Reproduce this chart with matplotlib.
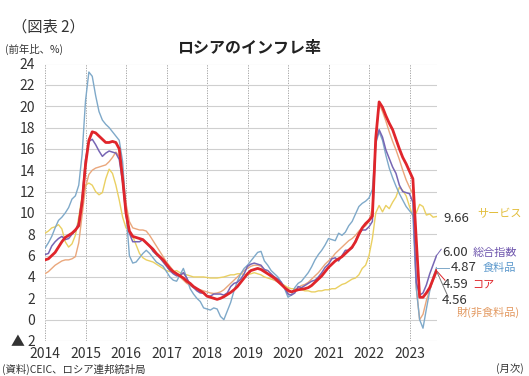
import matplotlib
matplotlib.use("Agg")
import matplotlib.pyplot as plt

plt.rcParams['font.family'] = ['Noto Sans CJK JP', 'DejaVu Sans']

# monthly y/y %, Jan 2014 - Sep 2023
years = [str(y) for y in range(2014, 2024)]

headline = [6.1, 6.2, 6.9, 7.3, 7.6, 7.8, 7.5, 7.6, 8.0, 8.3, 9.1, 11.4,
            15.0, 16.7, 16.9, 16.4, 15.8, 15.3, 15.6, 15.8, 15.7, 15.6, 15.0, 12.9,
            9.8, 8.1, 7.3, 7.3, 7.3, 7.5, 7.2, 6.9, 6.4, 6.1, 5.8, 5.4,
            5.0, 4.6, 4.3, 4.1, 4.1, 4.4, 3.9, 3.3, 3.0, 2.7, 2.5, 2.5,
            2.2, 2.2, 2.4, 2.4, 2.4, 2.3, 2.5, 3.1, 3.4, 3.5, 3.8, 4.3,
            5.0, 5.2, 5.3, 5.2, 5.1, 4.7, 4.6, 4.3, 4.0, 3.8, 3.5, 3.0,
            2.4, 2.3, 2.5, 3.1, 3.0, 3.2, 3.4, 3.6, 3.7, 4.0, 4.4, 4.9,
            5.2, 5.7, 5.8, 5.5, 6.0, 6.5, 6.5, 6.7, 7.4, 8.1, 8.4, 8.4,
            8.7, 9.2, 16.7, 17.8, 17.1, 15.9, 15.1, 14.3, 13.7, 12.6, 12.0, 11.9,
            11.8, 11.0, 3.5, 2.3, 2.5, 3.25, 4.3, 5.15, 6.0]

core = [5.6, 5.7, 6.0, 6.3, 6.8, 7.3, 7.7, 7.9, 8.1, 8.4, 8.8, 11.0,
        14.5, 16.8, 17.6, 17.5, 17.2, 16.9, 16.6, 16.6, 16.7, 16.6, 16.0, 13.2,
        10.0, 8.3, 7.8, 7.7, 7.6, 7.5, 7.2, 6.9, 6.6, 6.2, 5.9, 5.6,
        5.2, 4.8, 4.5, 4.3, 4.1, 3.9, 3.6, 3.4, 3.1, 2.9, 2.7, 2.5,
        2.2, 2.1, 2.0, 1.9, 2.0, 2.15, 2.35, 2.55, 2.8, 3.1, 3.5, 3.9,
        4.3, 4.6, 4.7, 4.8, 4.7, 4.5, 4.3, 4.1, 3.9, 3.6, 3.3, 3.0,
        2.75, 2.6, 2.7, 2.8, 2.85, 2.9, 3.0, 3.2, 3.5, 3.8, 4.1, 4.5,
        4.9, 5.2, 5.5, 5.7, 5.9, 6.2, 6.5, 6.8, 7.3, 8.0, 8.6, 9.0,
        9.3, 9.7, 17.0, 20.4, 19.9, 19.1, 18.4, 17.8, 16.9, 16.0, 15.2, 14.6,
        13.9, 13.2, 7.5, 2.1, 2.1, 2.5, 3.0, 3.8, 4.59]

food = [6.7, 7.2, 7.8, 8.6, 9.3, 9.6, 10.0, 10.5, 11.3, 11.6, 12.6, 15.5,
        20.5, 23.2, 22.8, 21.0, 19.5, 18.7, 18.3, 18.0, 17.6, 17.2, 16.8, 14.8,
        10.2, 6.0, 5.3, 5.4, 5.8, 6.2, 6.5, 6.2, 5.8, 5.4, 5.2, 5.0,
        4.5, 4.0, 3.7, 3.6, 4.2, 4.8, 3.9, 2.9, 2.4, 2.0, 1.7, 1.1,
        1.0, 0.9, 1.1, 1.0, 0.3, 0.0, 0.8, 1.6, 2.7, 3.6, 4.3, 4.8,
        5.1, 5.5, 5.9, 6.3, 6.4, 5.5, 5.1, 4.6, 4.3, 4.0, 3.5, 2.9,
        2.1, 2.3, 3.0, 3.4, 3.6, 4.0, 4.4, 4.95, 5.6, 6.1, 6.5, 7.0,
        7.6, 7.5, 7.4, 8.1, 7.9, 8.2, 8.8, 9.2, 9.9, 10.6, 10.9, 11.1,
        11.4, 12.2, 16.5, 17.6, 16.8, 15.4, 14.2, 13.3, 12.5, 11.8, 11.2, 10.6,
        10.2, 9.8, 3.0, 0.0, -0.8, 1.0, 2.7, 4.0, 4.87]

nonfood = [4.3, 4.5, 4.8, 5.1, 5.3, 5.5, 5.6, 5.6, 5.7, 5.9, 7.2, 9.8,
           12.4, 13.6, 14.0, 14.2, 14.3, 14.4, 14.5, 14.8, 15.2, 15.7, 15.3, 13.7,
           10.9, 9.2, 8.6, 8.5, 8.4, 8.4, 8.3, 7.9, 7.4, 6.9, 6.4, 5.9,
           5.4, 5.0, 4.6, 4.3, 4.0, 3.7, 3.4, 3.2, 3.0, 2.9, 2.8, 2.7,
           2.6, 2.5, 2.45, 2.5, 2.6, 2.8, 3.1, 3.4, 3.7, 4.0, 4.3, 4.6,
           4.8, 5.0, 5.1, 5.1, 5.0, 4.7, 4.3, 4.0, 3.7, 3.5, 3.3, 3.0,
           2.6, 2.6, 2.8, 3.0, 3.2, 3.3, 3.5, 3.8, 4.1, 4.4, 4.8, 5.2,
           5.5, 5.8, 6.2, 6.5, 6.8, 7.1, 7.4, 7.6, 7.9, 8.3, 8.6, 8.8,
           9.2, 10.5, 17.0, 20.2, 19.5, 18.6, 17.6, 16.7, 15.9, 15.0, 14.0, 13.1,
           12.4, 11.8, 3.0, 0.0, 0.5, 1.8, 2.8, 3.7, 4.56]

services = [8.1, 8.3, 8.6, 8.7, 8.9, 8.5, 7.3, 6.8, 7.1, 7.9, 9.6, 11.6,
            12.6, 12.8, 12.6, 12.0, 11.7, 11.9, 13.2, 14.1, 13.7, 12.6, 11.2, 9.6,
            8.6, 8.3, 7.8, 7.0, 6.2, 5.8, 5.6, 5.5, 5.4, 5.2, 5.0, 4.8,
            4.6, 4.5, 4.5, 4.6, 4.4, 4.3, 4.2, 4.1, 4.0, 4.0, 4.0, 4.0,
            3.95, 3.9, 3.9, 3.9, 3.95, 4.0, 4.1, 4.2, 4.2, 4.3, 4.3, 4.25,
            4.2, 4.3, 4.4, 4.3, 4.2, 4.0, 3.9, 3.8, 3.7, 3.6, 3.4, 3.2,
            3.0, 2.9, 2.9, 2.8, 2.8, 2.7, 2.7, 2.6, 2.6, 2.7, 2.7, 2.8,
            2.8, 2.9, 2.9, 3.1, 3.3, 3.4, 3.6, 3.8, 3.9, 4.2, 4.8, 5.1,
            6.0, 7.6, 10.0, 10.7, 10.1, 10.7, 10.4, 11.0, 11.5, 12.4, 12.1, 11.6,
            10.6, 9.7, 10.0, 10.8, 10.6, 9.8, 9.9, 9.6, 9.66]

months = list(range(len(headline)))

c_head = '#7766b4'
c_core = '#e0252b'
c_food = '#7fa9c9'
c_nonfood = '#eaa77c'
c_serv = '#ead062'

fig = plt.figure(figsize=(5.29, 3.76), dpi=100)
ax = fig.add_axes([45 / 529, 1 - 341 / 376, 391.5 / 529, 277.5 / 376])

ax.plot(months, services, color=c_serv, lw=1.0, zorder=3)
ax.plot(months, nonfood, color=c_nonfood, lw=1.0, zorder=3)
ax.plot(months, food, color=c_food, lw=1.0, zorder=3)
ax.plot(months, headline, color=c_head, lw=1.1, zorder=4)
ax.plot(months, core, color=c_core, lw=2.0, zorder=5)

ax.set_xlim(0, len(months) - 1)
ax.set_ylim(-2, 24)
ax.set_xticks(range(0, 12 * len(years), 12))
ax.set_xticklabels(years, fontsize=10, color='#333333')
yt = list(range(-2, 25, 2))
ax.set_yticks(yt)
ax.set_yticklabels(['▲ 2' if v < 0 else str(v) for v in yt], fontsize=10, color='#333333')
ax.tick_params(length=0)
ax.tick_params(axis='y', pad=7)
ax.tick_params(axis='x', pad=4)
for s in ax.spines.values():
    s.set_visible(False)
ax.grid(axis='y', color='#cfcfcf', lw=0.8, ls='-')
ax.grid(axis='x', color='#999999', lw=0.6, ls=(0, (1.5, 1.5)))
ax.set_axisbelow(True)

# end labels with leader lines
n = months[-1]
kw = dict(clip_on=False, lw=0.7)
ax.plot([n, n + 1.4], [headline[-1], headline[-1] + 0.6], color=c_head, **kw)
ax.plot([n, n + 3.6], [food[-1], food[-1]], color=c_food, **kw)
ax.plot([n, n + 2.5], [core[-1], 3.7], color=c_core, **kw)
ax.plot([n, n + 3.5], [nonfood[-1], 2.1], color='#777777', **kw)

num = dict(fontsize=9.5, color='#333333', va='center', ha='left', clip_on=False)
lab = dict(fontsize=8, va='center', ha='left', clip_on=False)
ax.text(n + 1.9, services[-1] - 0.15, f'{services[-1]:.2f}', **num)
ax.text(n + 12, services[-1] + 0.2, 'サービス', color='#e2bd3a', **lab)
ax.text(n + 1.6, headline[-1] + 0.3, f'{headline[-1]:.2f}', **num)
ax.text(n + 10.6, headline[-1] + 0.3, '総合指数', color='#6e55ad', **lab)
ax.text(n + 4.2, food[-1], f'{food[-1]:.2f}', **num)
ax.text(n + 13.6, food[-1], '食料品', color='#5b98cc', **lab)
ax.text(n + 1.9, 3.3, f'{core[-1]:.2f}', **num)
ax.text(n + 10.6, 3.3, 'コア', color=c_core, **lab)
ax.text(n + 1.6, 1.75, f'{nonfood[-1]:.2f}', **num)
ax.text(n + 6.0, 0.65, '財(非食料品)', color='#e39a62', **lab)

fig.text(12 / 529, 1 - 27 / 376, '（図表 2）', fontsize=11, va='center', ha='left', color='#333333')
fig.text(5 / 529, 1 - 49 / 376, '(前年比、%)', fontsize=7.5, va='center', ha='left', color='#333333')
fig.text(249 / 529, 1 - 48 / 376, 'ロシアのインフレ率', fontsize=11.5, fontweight='bold',
         va='center', ha='center', color='#222222')
fig.text(2 / 529, 1 - 369 / 376, '(資料)CEIC、ロシア連邦統計局', fontsize=7.5, va='center', ha='left', color='#333333')
fig.text(524 / 529, 1 - 369 / 376, '(月次)', fontsize=7.5, va='center', ha='right', color='#333333')

fig.savefig('out.png', dpi=100)
